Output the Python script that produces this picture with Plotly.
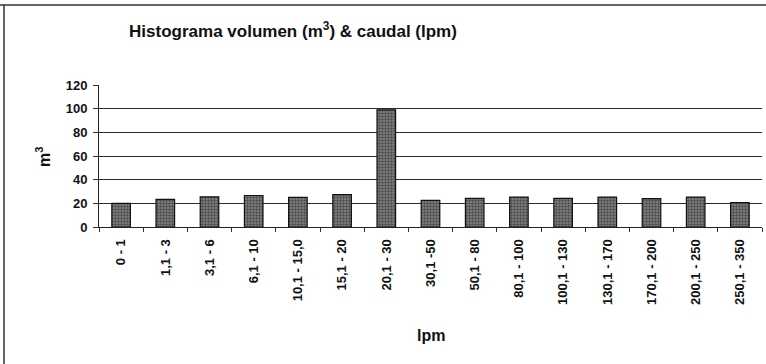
import plotly.graph_objects as go

# Flow-rate classes (lpm) and volume per class (m3)
categories = [
    "0 - 1", "1,1 - 3", "3,1 - 6", "6,1 - 10", "10,1 - 15,0", "15,1 - 20",
    "20,1 - 30", "30,1 -50", "50,1 - 80", "80,1 - 100", "100,1 - 130",
    "130,1 - 170", "170,1 - 200", "200,1 - 250", "250,1 - 350",
]
volumes = [20, 23.3, 25.4, 26.6, 25, 27.4, 99, 22.5, 24.2, 25.3, 24.2, 25.3, 24, 25.3, 20.6]
y_ticks = [0, 20, 40, 60, 80, 100, 120]

FONT = "Liberation Sans, Arial, sans-serif"
W, H = 766, 364
L, R, T, B = 99, 4, 85, 137
pw, ph = W - L - R, H - T - B


def px_x(x):
    return (x - L) / pw


def px_y(y):
    return (H - B - y) / ph


fig = go.Figure(
    go.Bar(
        x=categories,
        y=volumes,
        marker=dict(
            color="#5a5a5a",
            line=dict(color="#111111", width=1.2),
            pattern=dict(shape=".", fgcolor="#111111", bgcolor="#858585",
                         size=3, solidity=0.5),
        ),
        width=0.42,
        hoverinfo="x+y",
    )
)

fig.update_layout(
    width=W,
    height=H,
    margin=dict(l=L, r=R, t=T, b=B),
    paper_bgcolor="white",
    plot_bgcolor="white",
    showlegend=False,
    font=dict(family=FONT, color="#111111"),
    title=dict(
        text="<b>Histograma volumen (m<sup>3</sup>) & caudal (lpm)</b>",
        font=dict(size=17, family=FONT, color="#111111"),
        xref="container", yref="container",
        x=293 / W, y=1 - 31 / H, xanchor="center", yanchor="middle",
    ),
)

fig.update_xaxes(
    type="category",
    tickangle=-90,
    tickfont=dict(size=13, family=FONT, color="#111111", weight="bold"),
    showline=True, linecolor="#222222", linewidth=1,
    ticks="outside", tickson="boundaries", ticklen=4, tickcolor="#333333",
    ticklabelstandoff=6,
    showgrid=False,
)

fig.update_yaxes(
    range=[0, 120],
    tickvals=y_ticks,
    tickfont=dict(size=13, family=FONT, color="#111111", weight="bold"),
    showline=True, linecolor="#222222", linewidth=1,
    ticks="outside", ticklen=5, tickcolor="#333333",
    ticklabelstandoff=3,
    showgrid=True, gridcolor="#2a2a2a", gridwidth=1,
    zeroline=False,
)

# Axis titles
fig.add_annotation(
    text="<b>m<sup>3</sup></b>", xref="paper", yref="paper",
    x=px_x(43), y=px_y(157), xanchor="center", yanchor="middle",
    textangle=-90, showarrow=False,
    font=dict(size=16, family=FONT, color="#111111"),
)
fig.add_annotation(
    text="<b>lpm</b>", xref="paper", yref="paper",
    x=px_x(431), y=px_y(335), xanchor="center", yanchor="middle",
    showarrow=False,
    font=dict(size=16, family=FONT, color="#111111"),
)

# Chart frame (top and left edges)
fig.add_shape(type="line", xref="paper", yref="paper",
              x0=px_x(0), x1=px_x(W), y0=px_y(5), y1=px_y(5),
              line=dict(color="#333333", width=1.5))
fig.add_shape(type="line", xref="paper", yref="paper",
              x0=px_x(4), x1=px_x(4), y0=px_y(5), y1=px_y(H),
              line=dict(color="#333333", width=1.5))

fig.write_html("out.html")
